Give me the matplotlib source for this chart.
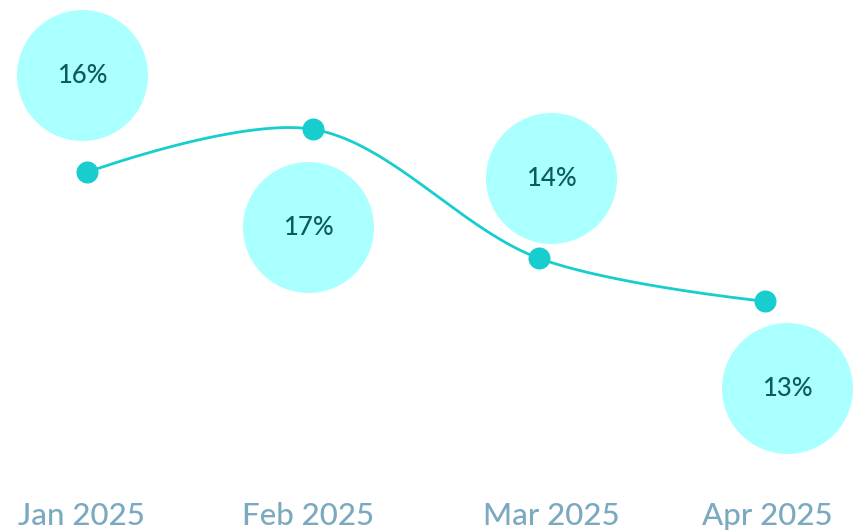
import numpy as np
import matplotlib
matplotlib.use("Agg")
import matplotlib.pyplot as plt

# ---- data ----
categories = ["Jan 2025", "Feb 2025", "Mar 2025", "Apr 2025"]
values = [16, 17, 14, 13]
labels = ["16%", "17%", "14%", "13%"]

# ---- style ----
LINE_C = "#17cdcd"
BUBBLE_C = "#aaffff"
TEXT_C = "#0e5a5a"
TICK_C = "#7ba9bf"
FONT = ["Lato", "DejaVu Sans"]
# bubble offsets from the point, in pixels (dx right, dy up)
bubble_off = [(-4.5, 97), (-4.5, -98), (12.5, 80), (22, -87)]
# tick label x offsets from the point, in pixels
tick_off = [-5.5, -4.5, 12, 2.5]

W, H, DPI = 857, 531, 100
fig = plt.figure(figsize=(W / DPI, H / DPI), dpi=DPI)
ax = fig.add_axes([0, 0, 1, 1])
ax.set_axis_off()
x = np.arange(len(values))
ax.set_xlim(-87 / 226, (W - 87) / 226)
ax.set_ylim(17 - (H - 129.3) / 43, 17 + 129.3 / 43)

fig.canvas.draw()
T = ax.transData
inv = T.inverted()
P = T.transform(np.column_stack([x, values]))


def catmull_rom(pts, alpha=0.5):
    # d3 curveCatmullRom implementation (in display space)
    out = [pts[0]]
    n = len(pts)
    ext = [pts[0]] + list(pts) + [pts[-1]]
    for i in range(n - 1):
        p0, p1, p2, p3 = ext[i], ext[i + 1], ext[i + 2], ext[i + 3]
        def d(a, b):
            return np.hypot(*(a - b))
        l01_2a = d(p0, p1) ** (2 * alpha); l01_a = np.sqrt(l01_2a)
        l12_2a = d(p1, p2) ** (2 * alpha); l12_a = np.sqrt(l12_2a)
        l23_2a = d(p2, p3) ** (2 * alpha); l23_a = np.sqrt(l23_2a)
        c1 = p1.copy(); c2 = p2.copy()
        if l01_a > 1e-12:
            a = 2 * l01_2a + 3 * l01_a * l12_a + l12_2a
            nn = 3 * l01_a * (l01_a + l12_a)
            c1 = (p1 * a - p0 * l12_2a + p2 * l01_2a) / nn
        if l23_a > 1e-12:
            b = 2 * l23_2a + 3 * l23_a * l12_a + l12_2a
            m = 3 * l23_a * (l23_a + l12_a)
            c2 = (p2 * b + p1 * l23_2a - p3 * l12_2a) / m
        t = np.linspace(0, 1, 80)[1:, None]
        seg = ((1 - t) ** 3) * p1 + 3 * ((1 - t) ** 2) * t * c1 + 3 * (1 - t) * t ** 2 * c2 + t ** 3 * p2
        out.extend(seg)
    return np.array(out)


curve = inv.transform(catmull_rom([np.array(p) for p in P]))
ax.plot(curve[:, 0], curve[:, 1], color=LINE_C, lw=2.0, solid_capstyle="round", zorder=2)
ax.scatter(x, values, s=(22 * 72 / DPI) ** 2, color=LINE_C, zorder=3, linewidths=0)

# bubbles
bpix = P + np.array(bubble_off)
bpos = inv.transform(bpix)
ax.scatter(bpos[:, 0], bpos[:, 1], s=(131 * 72 / DPI) ** 2, color=BUBBLE_C, linewidths=0, zorder=1)
tp = inv.transform(bpix + np.array([0, 2.5]))
for (bx, by), lab in zip(tp, labels):
    ax.text(bx, by, lab, ha="center", va="center_baseline", fontsize=18.5,
            color=TEXT_C, family=FONT, fontweight="medium", zorder=4)

# category labels
tpos = inv.transform(np.column_stack([P[:, 0] + np.array(tick_off), np.full(len(P), 6.0)]))
for (tx, ty), cat in zip(tpos, categories):
    ax.text(tx, ty, cat, ha="center", va="baseline", fontsize=22.5, color=TICK_C,
            family=FONT, fontweight="medium")

fig.savefig("out.png", dpi=DPI)
